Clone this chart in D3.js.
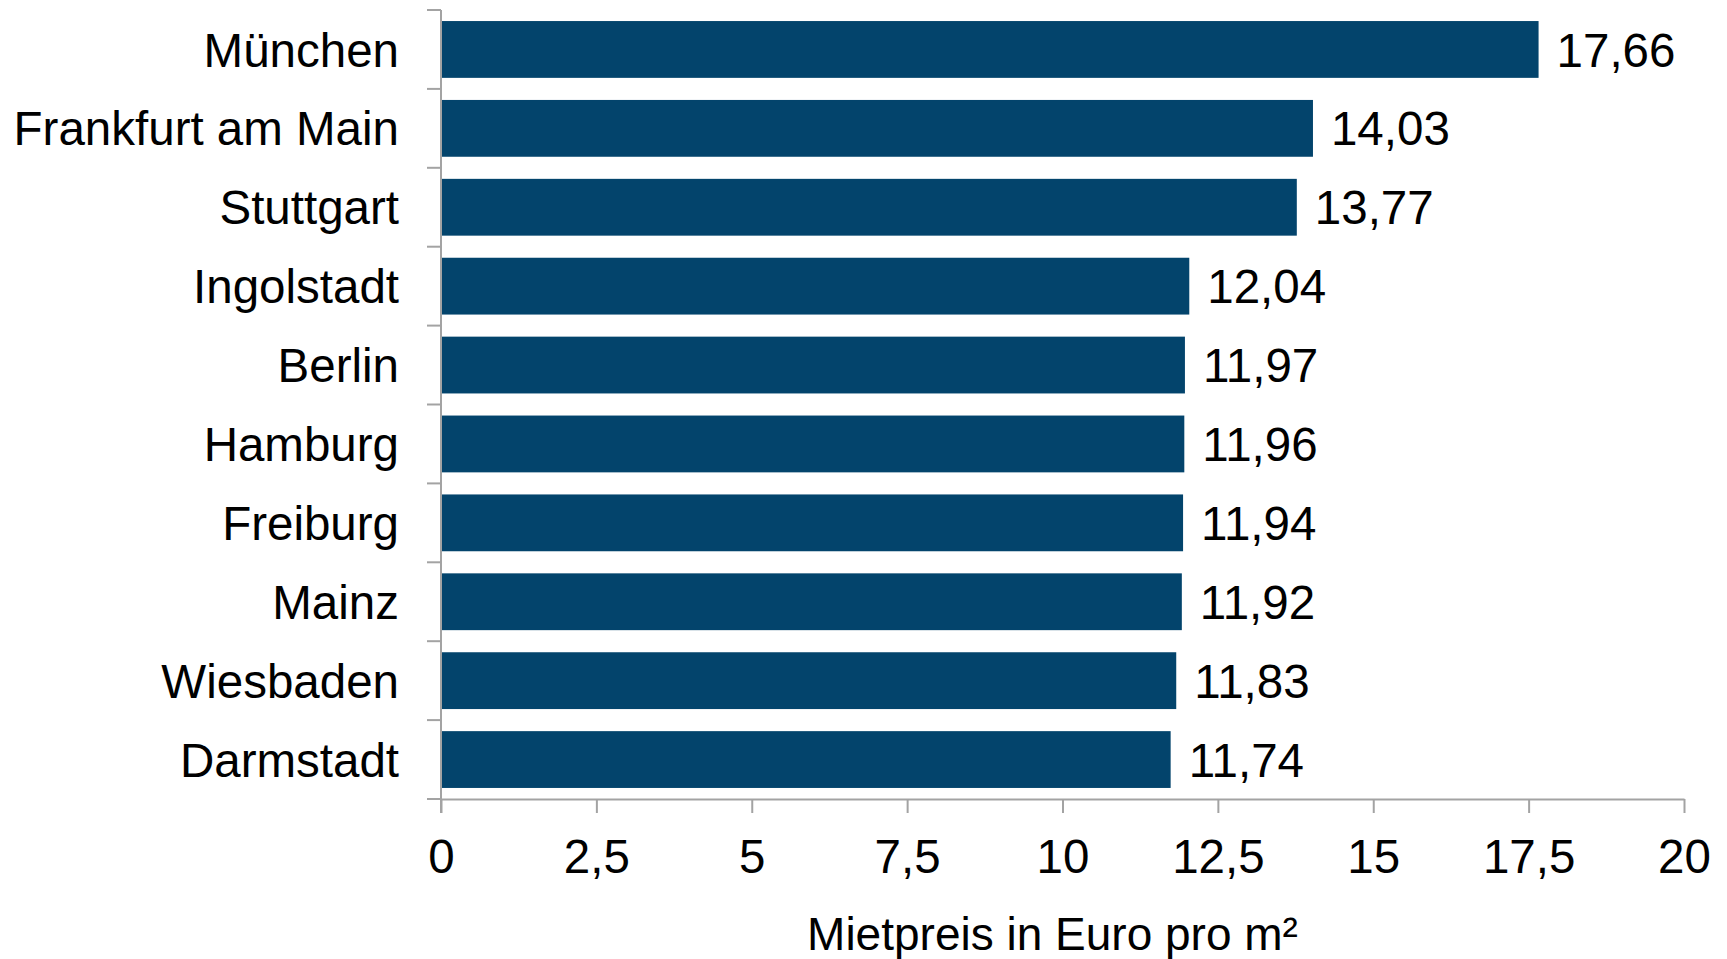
<!DOCTYPE html>
<html>
<head>
<meta charset="utf-8">
<script src="https://cdn.jsdelivr.net/npm/d3@7"></script>
<style>
  body { margin: 0; background: #fff; }
  text { font-family: "Liberation Sans", Arial, sans-serif; fill: #000; }
</style>
</head>
<body>
<svg></svg>
<script>
// DATA

let cities = ["München", "Frankfurt am Main", "Stuttgart", "Ingolstadt", "Berlin",
              "Hamburg", "Freiburg", "Mainz", "Wiesbaden", "Darmstadt"];
let rents = [17.66, 14.03, 13.77, 12.04, 11.97, 11.96, 11.94, 11.92, 11.83, 11.74];
let xTicks = [0, 2.5, 5, 7.5, 10, 12.5, 15, 17.5, 20];
let axisTitle = "Mietpreis in Euro pro m²";

// PAGE SETUP

let margin = {top: 10, left: 441, right: 43, bottom: 160};
let width = 1727 - margin.left - margin.right;
let height = 959 - margin.top - margin.bottom;

let svg = d3.select("svg")
  .attr("width", 1727)
  .attr("height", 959)
  .append("g")
  .attr("transform", `translate(${margin.left},${margin.top})`);

let fmt = v => String(v).replace(".", ",");
let fontSize = "47.5px";

// SCALES

let x = d3.scaleLinear()
  .domain([0, 20])
  .range([0, width]);

let y = d3.scaleBand()
  .domain(cities)
  .range([0, height])
  .paddingInner(0.28)
  .paddingOuter(0.14);

let axisColor = "#a3a3a3";

// AXES

// y axis line + category boundary ticks
svg.append("line")
  .attr("x1", 0).attr("x2", 0)
  .attr("y1", 0).attr("y2", height + 14)
  .attr("stroke", axisColor).attr("stroke-width", 2);

let bounds = d3.range(cities.length + 1).map(i => i * height / cities.length);
svg.selectAll(".ytick")
  .data(bounds)
  .enter()
  .append("line")
  .attr("class", "ytick")
  .attr("x1", -14).attr("x2", 0)
  .attr("y1", d => d).attr("y2", d => d)
  .attr("stroke", axisColor).attr("stroke-width", 2);

// x axis
let xAxis = svg.append("g")
  .attr("transform", `translate(0,${height})`)
  .call(d3.axisBottom(x).tickValues(xTicks).tickFormat(fmt).tickSizeInner(14).tickSizeOuter(0).tickPadding(26));

xAxis.select(".domain").attr("stroke", axisColor).attr("stroke-width", 2);
xAxis.selectAll(".tick line").attr("stroke", axisColor).attr("stroke-width", 2);
xAxis.selectAll(".tick text")
  .style("font-family", '"Liberation Sans", Arial, sans-serif')
  .style("font-size", fontSize)
  .attr("fill", "#000");

// category labels
svg.selectAll(".city-label")
  .data(cities)
  .enter()
  .append("text")
  .attr("class", "city-label")
  .attr("x", -42)
  .attr("y", d => y(d) + y.bandwidth() / 2)
  .attr("dy", "0.36em")
  .attr("text-anchor", "end")
  .style("font-size", fontSize)
  .text(d => d);

// BARS

svg.selectAll(".bar")
  .data(rents)
  .enter()
  .append("rect")
  .attr("class", "bar")
  .attr("x", 1)
  .attr("y", (d, i) => y(cities[i]))
  .attr("width", d => x(d) - 1)
  .attr("height", y.bandwidth())
  .attr("fill", "#03446c");

svg.selectAll(".value-label")
  .data(rents)
  .enter()
  .append("text")
  .attr("class", "value-label")
  .attr("x", d => x(d) + 18)
  .attr("y", (d, i) => y(cities[i]) + y.bandwidth() / 2)
  .attr("dy", "0.36em")
  .style("font-size", fontSize)
  .text(d => fmt(d.toFixed(2)));

// axis title
svg.append("text")
  .attr("x", width / 2 - 10)
  .attr("y", 950 - margin.top)
  .attr("text-anchor", "middle")
  .style("font-size", "46px")
  .text(axisTitle);
</script>
</body>
</html>
